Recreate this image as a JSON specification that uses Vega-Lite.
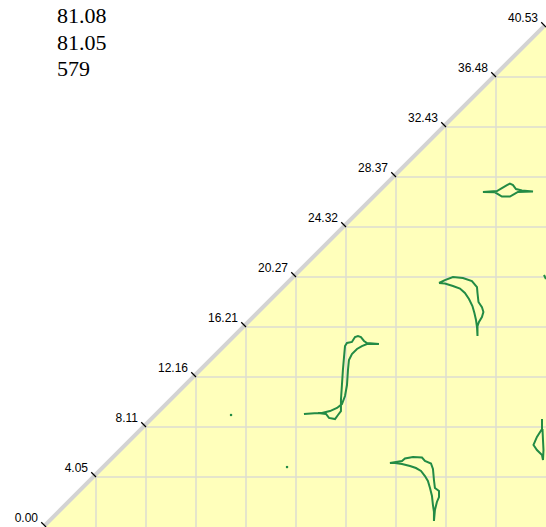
{
  "$schema": "https://vega.github.io/schema/vega-lite/v6.json",
  "width": 500,
  "height": 500,
  "autosize": {"type": "none"},
  "padding": {"left": 46, "top": 27, "right": 0, "bottom": 0},
  "background": "white",
  "config": {"view": {"stroke": null}},
  "title": {
    "text": ["81.08", "81.05", "579"],
    "anchor": "start",
    "frame": "group",
    "font": "Liberation Serif",
    "fontSize": 22,
    "fontWeight": "normal",
    "color": "#000000",
    "lineHeight": 26.5,
    "baseline": "top",
    "offset": 0,
    "dx": 11,
    "dy": 70
  },
  "datasets": {
    "diag": [{"v": 0}, {"v": 40.534}],
    "grid": [
      {"v": 4.0534}, {"v": 8.1068}, {"v": 12.1602}, {"v": 16.2136}, {"v": 20.267},
      {"v": 24.3204}, {"v": 28.3738}, {"v": 32.4272}, {"v": 36.4806}
    ],
    "ticks": [
      {"v": 0, "label": "0.00"}, {"v": 4.0534, "label": "4.05"}, {"v": 8.1068, "label": "8.11"},
      {"v": 12.1602, "label": "12.16"}, {"v": 16.2136, "label": "16.21"}, {"v": 20.267, "label": "20.27"},
      {"v": 24.3204, "label": "24.32"}, {"v": 28.3738, "label": "28.37"}, {"v": 32.4272, "label": "32.43"},
      {"v": 36.4806, "label": "36.48"}, {"v": 40.534, "label": "40.53"}
    ],
    "dots": [{"x": 15.0, "y": 9.08}, {"x": 19.54, "y": 4.86}],
    "contours": [
      {"s": 1, "i": 1, "x": 20.91, "y": 9.16}, {"s": 1, "i": 2, "x": 22.05, "y": 9.24},
      {"s": 1, "i": 3, "x": 22.70, "y": 9.16}, {"s": 1, "i": 4, "x": 22.94, "y": 8.84},
      {"s": 1, "i": 5, "x": 23.43, "y": 8.75}, {"s": 1, "i": 6, "x": 23.67, "y": 9.08},
      {"s": 1, "i": 7, "x": 23.91, "y": 9.40}, {"s": 1, "i": 8, "x": 23.91, "y": 10.29},
      {"s": 1, "i": 9, "x": 23.99, "y": 11.51}, {"s": 1, "i": 10, "x": 24.07, "y": 12.73},
      {"s": 1, "i": 11, "x": 24.16, "y": 13.78}, {"s": 1, "i": 12, "x": 24.24, "y": 14.67},
      {"s": 1, "i": 13, "x": 24.40, "y": 14.92}, {"s": 1, "i": 14, "x": 24.80, "y": 15.00},
      {"s": 1, "i": 15, "x": 25.05, "y": 15.40}, {"s": 1, "i": 16, "x": 25.29, "y": 15.48},
      {"s": 1, "i": 17, "x": 25.53, "y": 15.40}, {"s": 1, "i": 18, "x": 25.78, "y": 15.08},
      {"s": 1, "i": 19, "x": 26.02, "y": 14.92}, {"s": 1, "i": 20, "x": 26.99, "y": 14.83},
      {"s": 1, "i": 21, "x": 26.02, "y": 14.83}, {"s": 1, "i": 22, "x": 25.61, "y": 14.67},
      {"s": 1, "i": 23, "x": 25.21, "y": 14.43}, {"s": 1, "i": 24, "x": 24.80, "y": 14.02},
      {"s": 1, "i": 25, "x": 24.56, "y": 13.54}, {"s": 1, "i": 26, "x": 24.48, "y": 12.73},
      {"s": 1, "i": 27, "x": 24.40, "y": 11.51}, {"s": 1, "i": 28, "x": 24.24, "y": 10.62},
      {"s": 1, "i": 29, "x": 23.99, "y": 9.97}, {"s": 1, "i": 30, "x": 23.59, "y": 9.65},
      {"s": 1, "i": 31, "x": 23.02, "y": 9.40}, {"s": 1, "i": 32, "x": 22.37, "y": 9.24},
      {"s": 1, "i": 33, "x": 22.05, "y": 9.24},

      {"s": 2, "i": 1, "x": 27.88, "y": 5.19}, {"s": 2, "i": 2, "x": 28.86, "y": 5.35},
      {"s": 2, "i": 3, "x": 29.10, "y": 5.55}, {"s": 2, "i": 4, "x": 29.75, "y": 5.67},
      {"s": 2, "i": 5, "x": 30.48, "y": 5.63}, {"s": 2, "i": 6, "x": 30.72, "y": 5.35},
      {"s": 2, "i": 7, "x": 31.21, "y": 5.15}, {"s": 2, "i": 8, "x": 31.37, "y": 4.70},
      {"s": 2, "i": 9, "x": 31.45, "y": 3.81}, {"s": 2, "i": 10, "x": 31.53, "y": 3.16},
      {"s": 2, "i": 11, "x": 31.86, "y": 2.92}, {"s": 2, "i": 12, "x": 31.86, "y": 2.43},
      {"s": 2, "i": 13, "x": 31.69, "y": 2.03}, {"s": 2, "i": 14, "x": 31.53, "y": 1.38},
      {"s": 2, "i": 15, "x": 31.45, "y": 0.49}, {"s": 2, "i": 16, "x": 31.45, "y": 1.22},
      {"s": 2, "i": 17, "x": 31.37, "y": 1.78}, {"s": 2, "i": 18, "x": 31.29, "y": 2.51},
      {"s": 2, "i": 19, "x": 31.13, "y": 3.16}, {"s": 2, "i": 20, "x": 30.96, "y": 3.73},
      {"s": 2, "i": 21, "x": 30.72, "y": 4.13}, {"s": 2, "i": 22, "x": 30.40, "y": 4.54},
      {"s": 2, "i": 23, "x": 29.99, "y": 4.78}, {"s": 2, "i": 24, "x": 29.51, "y": 4.94},
      {"s": 2, "i": 25, "x": 28.86, "y": 5.11}, {"s": 2, "i": 26, "x": 28.29, "y": 5.19},
      {"s": 2, "i": 27, "x": 27.88, "y": 5.19},

      {"s": 3, "i": 1, "x": 31.86, "y": 19.78}, {"s": 3, "i": 2, "x": 32.34, "y": 20.02},
      {"s": 3, "i": 3, "x": 32.99, "y": 20.27}, {"s": 3, "i": 4, "x": 33.80, "y": 20.18},
      {"s": 3, "i": 5, "x": 34.53, "y": 19.94}, {"s": 3, "i": 6, "x": 34.94, "y": 19.45},
      {"s": 3, "i": 7, "x": 34.98, "y": 18.97}, {"s": 3, "i": 8, "x": 35.06, "y": 18.24},
      {"s": 3, "i": 9, "x": 35.34, "y": 17.83}, {"s": 3, "i": 10, "x": 35.46, "y": 17.43},
      {"s": 3, "i": 11, "x": 35.34, "y": 17.02}, {"s": 3, "i": 12, "x": 35.10, "y": 16.62},
      {"s": 3, "i": 13, "x": 34.98, "y": 16.29}, {"s": 3, "i": 14, "x": 34.98, "y": 15.48},
      {"s": 3, "i": 15, "x": 34.94, "y": 16.21}, {"s": 3, "i": 16, "x": 34.86, "y": 16.78},
      {"s": 3, "i": 17, "x": 34.73, "y": 17.35}, {"s": 3, "i": 18, "x": 34.57, "y": 17.91},
      {"s": 3, "i": 19, "x": 34.29, "y": 18.48}, {"s": 3, "i": 20, "x": 33.96, "y": 18.97},
      {"s": 3, "i": 21, "x": 33.56, "y": 19.33}, {"s": 3, "i": 22, "x": 32.99, "y": 19.54},
      {"s": 3, "i": 23, "x": 32.34, "y": 19.74}, {"s": 3, "i": 24, "x": 31.86, "y": 19.78},

      {"s": 4, "i": 1, "x": 35.42, "y": 27.16}, {"s": 4, "i": 2, "x": 36.56, "y": 27.24},
      {"s": 4, "i": 3, "x": 36.96, "y": 27.48}, {"s": 4, "i": 4, "x": 37.37, "y": 27.72},
      {"s": 4, "i": 5, "x": 37.61, "y": 27.84}, {"s": 4, "i": 6, "x": 37.86, "y": 27.72},
      {"s": 4, "i": 7, "x": 38.10, "y": 27.40}, {"s": 4, "i": 8, "x": 38.58, "y": 27.28},
      {"s": 4, "i": 9, "x": 39.48, "y": 27.20}, {"s": 4, "i": 10, "x": 38.26, "y": 27.16},
      {"s": 4, "i": 11, "x": 38.02, "y": 27.03}, {"s": 4, "i": 12, "x": 37.61, "y": 26.79},
      {"s": 4, "i": 13, "x": 36.96, "y": 26.79}, {"s": 4, "i": 14, "x": 36.64, "y": 26.99},
      {"s": 4, "i": 15, "x": 36.40, "y": 27.13}, {"s": 4, "i": 16, "x": 35.42, "y": 27.16},

      {"s": 5, "i": 1, "x": 40.21, "y": 8.75}, {"s": 5, "i": 2, "x": 40.21, "y": 7.94},
      {"s": 5, "i": 3, "x": 39.80, "y": 7.30}, {"s": 5, "i": 4, "x": 39.52, "y": 6.65},
      {"s": 5, "i": 5, "x": 39.80, "y": 6.24}, {"s": 5, "i": 6, "x": 40.21, "y": 5.84},
      {"s": 5, "i": 7, "x": 40.29, "y": 5.43}, {"s": 5, "i": 8, "x": 40.33, "y": 6.24},
      {"s": 5, "i": 9, "x": 40.29, "y": 7.05}, {"s": 5, "i": 10, "x": 40.25, "y": 7.94},

      {"s": 6, "i": 1, "x": 40.37, "y": 20.43}, {"s": 6, "i": 2, "x": 40.53, "y": 20.10}
    ]
  },
  "layer": [
    {
      "data": {"name": "diag"},
      "mark": {"type": "line", "color": "#d3d3d3", "strokeWidth": 8, "strokeCap": "butt"},
      "encoding": {
        "x": {"field": "v", "type": "quantitative", "scale": {"domain": [0, 40.534], "nice": false, "zero": false}, "axis": null},
        "y": {"field": "v", "type": "quantitative", "scale": {"domain": [0, 40.534], "nice": false, "zero": false}, "axis": null}
      }
    },
    {
      "data": {"name": "diag"},
      "mark": {"type": "area", "color": "#ffffbb", "opacity": 1, "fillOpacity": 1},
      "encoding": {
        "x": {"field": "v", "type": "quantitative"},
        "y": {"field": "v", "type": "quantitative"},
        "y2": {"datum": 0}
      }
    },
    {
      "data": {"name": "grid"},
      "mark": {"type": "rule", "color": "#dcdcd0", "strokeWidth": 1.5},
      "encoding": {
        "x": {"field": "v", "type": "quantitative"},
        "y": {"field": "v", "type": "quantitative"},
        "y2": {"datum": 0}
      }
    },
    {
      "data": {"name": "grid"},
      "mark": {"type": "rule", "color": "#dcdcd0", "strokeWidth": 1.5},
      "encoding": {
        "y": {"field": "v", "type": "quantitative"},
        "x": {"field": "v", "type": "quantitative"},
        "x2": {"datum": 40.534}
      }
    },
    {
      "data": {"name": "contours"},
      "mark": {"type": "line", "color": "#238b45", "strokeWidth": 2, "strokeJoin": "miter"},
      "encoding": {
        "x": {"field": "x", "type": "quantitative"},
        "y": {"field": "y", "type": "quantitative"},
        "detail": {"field": "s", "type": "nominal"},
        "order": {"field": "i", "type": "quantitative"}
      }
    },
    {
      "data": {"name": "dots"},
      "mark": {"type": "point", "shape": "square", "filled": true, "color": "#238b45", "size": 5, "opacity": 1},
      "encoding": {
        "x": {"field": "x", "type": "quantitative"},
        "y": {"field": "y", "type": "quantitative"}
      }
    },
    {
      "data": {"name": "ticks"},
      "mark": {"type": "point", "shape": "M0,0L-1,-1", "filled": false, "color": "#000000", "strokeWidth": 1.2, "size": 90, "opacity": 1},
      "encoding": {
        "x": {"field": "v", "type": "quantitative"},
        "y": {"field": "v", "type": "quantitative"}
      }
    },
    {
      "data": {"name": "ticks"},
      "mark": {"type": "text", "align": "right", "baseline": "middle", "dx": -8, "dy": -9, "font": "Liberation Sans", "fontSize": 12, "color": "#000000"},
      "encoding": {
        "x": {"field": "v", "type": "quantitative"},
        "y": {"field": "v", "type": "quantitative"},
        "text": {"field": "label"}
      }
    }
  ]
}
